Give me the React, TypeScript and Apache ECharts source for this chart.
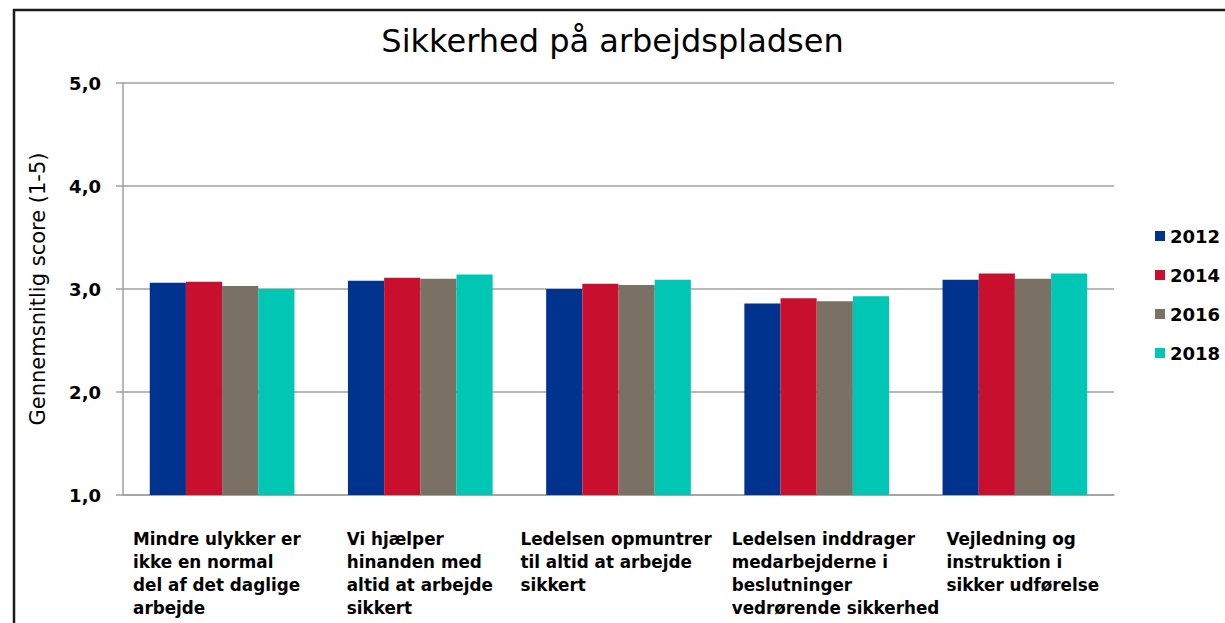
import React, { useEffect, useRef } from "react";
import * as echarts from "echarts";

const title = "Sikkerhed på arbejdspladsen";
const yAxisName = "Gennemsnitlig score (1-5)";
const categories = [
  "Mindre ulykker er\nikke en normal\ndel af det daglige\narbejde",
  "Vi hjælper\nhinanden med\naltid at arbejde\nsikkert",
  "Ledelsen opmuntrer\ntil altid at arbejde\nsikkert",
  "Ledelsen inddrager\nmedarbejderne i\nbeslutninger\nvedrørende sikkerhed",
  "Vejledning og\ninstruktion i\nsikker udførelse",
];
const years = ["2012", "2014", "2016", "2018"];
const values2012 = [3.06, 3.08, 3.0, 2.86, 3.09];
const values2014 = [3.07, 3.11, 3.05, 2.91, 3.15];
const values2016 = [3.03, 3.1, 3.04, 2.88, 3.1];
const values2018 = [3.0, 3.14, 3.09, 2.93, 3.15];
const colors = ["#00338D", "#C8102E", "#7A7064", "#00C6B4"];

const FONT = "DejaVu Sans";
const LABEL_FONT_SIZE = 16.8;
// horizontal nudge of each category label block (layout only)
const LABEL_SHIFT = [-5, 0, -2, 19, 8];

function measureMaxLine(text: string): number {
  const canvas = document.createElement("canvas");
  const ctx = canvas.getContext("2d");
  if (!ctx) return 180;
  ctx.font = `bold ${LABEL_FONT_SIZE}px "${FONT}"`;
  return Math.ceil(Math.max(...text.split("\n").map((l) => ctx.measureText(l).width)));
}

export default function App() {
  const ref = useRef<HTMLDivElement>(null);
  useEffect(() => {
    if (!ref.current) return;
    const chart = echarts.init(ref.current, null, { renderer: "svg" });
    const seriesValues = [values2012, values2014, values2016, values2018];
    const rich: Record<string, any> = {};
    categories.forEach((c, i) => {
      const s = LABEL_SHIFT[i];
      rich["c" + i] = {
        fontFamily: FONT,
        fontSize: LABEL_FONT_SIZE,
        fontWeight: "bold",
        color: "#000",
        lineHeight: 23,
        width: measureMaxLine(c),
        align: "left",
        padding: [0, s < 0 ? -2 * s : 0, 0, s > 0 ? 2 * s : 0],
      };
    });
    chart.setOption({
      animation: false,
      backgroundColor: "#ffffff",
      textStyle: { fontFamily: FONT, color: "#000" },
      title: {
        text: title,
        left: "center",
        top: 20,
        textStyle: { fontFamily: FONT, fontSize: 32, fontWeight: "normal", color: "#000" },
      },
      legend: {
        orient: "vertical",
        left: 1150,
        top: 222,
        itemWidth: 10,
        itemHeight: 10,
        itemGap: 21,
        icon: "rect",
        data: years,
        textStyle: { fontFamily: FONT, fontSize: 18, fontWeight: "bold", color: "#000", lineHeight: 18 },
      },
      grid: { left: 123, top: 83, right: 111, bottom: 128, containLabel: false },
      xAxis: {
        type: "category",
        data: categories,
        axisLine: { show: true, lineStyle: { color: "#a0a0a0", width: 1.5 } },
        axisTick: { show: false },
        axisLabel: {
          interval: 0,
          margin: 32,
          align: "center",
          formatter: (v: string, idx: number) =>
            v.split("\n").map((l) => `{c${idx}|${l}}`).join("\n"),
          rich,
        },
      },
      yAxis: {
        type: "value",
        min: 1,
        max: 5,
        interval: 1,
        name: yAxisName,
        nameLocation: "middle",
        nameGap: 75,
        nameTextStyle: { fontFamily: FONT, fontSize: 21, color: "#000" },
        axisLine: { show: true, lineStyle: { color: "#a0a0a0", width: 1.5 } },
        axisTick: { show: true, length: 7, lineStyle: { color: "#a0a0a0", width: 1.5 } },
        splitLine: { show: true, lineStyle: { color: "#a0a0a0", width: 1.5 } },
        axisLabel: {
          margin: 22,
          fontFamily: FONT,
          fontSize: 18,
          fontWeight: "bold",
          color: "#000",
          formatter: (v: number) => v.toFixed(1).replace(".", ","),
        },
      },
      series: years.map((y, i) => ({
        name: y,
        type: "bar",
        data: seriesValues[i],
        barGap: "0%",
        barCategoryGap: "27%",
        itemStyle: { color: colors[i] },
      })),
      graphic: [
        { type: "line", shape: { x1: 13, y1: 10, x2: 1225, y2: 10 }, style: { stroke: "#1a1a1a", lineWidth: 2.5 } },
        { type: "line", shape: { x1: 14, y1: 9, x2: 14, y2: 623 }, style: { stroke: "#1a1a1a", lineWidth: 2.5 } },
      ],
    });
    return () => chart.dispose();
  }, []);
  return (
    <div
      ref={ref}
      style={{ position: "fixed", left: 0, top: 0, width: 1225, height: 623 }}
    />
  );
}
